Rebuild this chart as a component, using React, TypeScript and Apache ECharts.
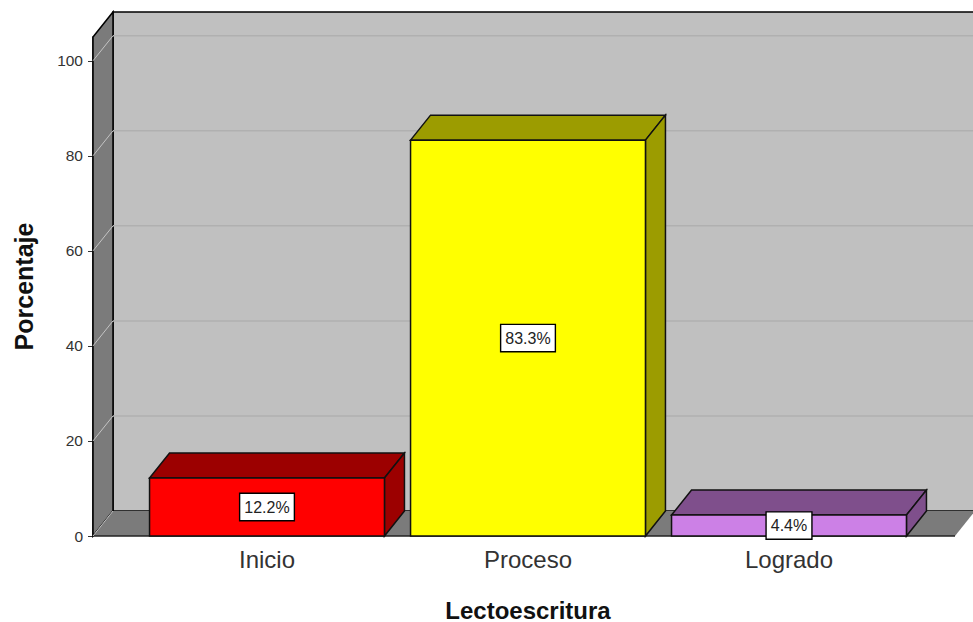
import React, { useEffect, useRef } from "react";
import * as echarts from "echarts";

const categories = ["Inicio", "Proceso", "Logrado"];
const values = [12.2, 83.3, 4.4];
const labels = ["12.2%", "83.3%", "4.4%"];
const tickValues = [0, 20, 40, 60, 80, 100];
const frontColors = ["#ff0000", "#ffff00", "#cc80e6"];
const sideColors = ["#9c0000", "#9c9c00", "#7f4f8c"];

const DX = 20;
const DY = -25;
const AXIS_X = 93;
const AXIS_END = 955;
const FONT = '"Liberation Sans", Arial, sans-serif';

export default function App() {
  const ref = useRef<HTMLDivElement>(null);
  useEffect(() => {
    document.body.style.margin = "0";
    const chart = echarts.init(ref.current!, null, { renderer: "svg" });
    const poly = (points: number[][], fill: string, stroke: string, lineWidth = 1) => ({
      type: "polygon",
      shape: { points },
      style: { fill, stroke, lineWidth },
    });
    chart.setOption({
      animation: false,
      backgroundColor: "#ffffff",
      grid: { left: 136.5, width: 783, top: 37, height: 499, outerBoundsMode: "none" },
      xAxis: {
        type: "category",
        data: categories,
        axisLine: { show: false },
        axisTick: { show: false },
        axisLabel: { margin: 11, fontSize: 24, color: "#333333", fontFamily: FONT },
        name: "Lectoescritura",
        nameLocation: "center",
        nameGap: 62,
        nameTextStyle: { fontSize: 24, fontWeight: "bold", color: "#111111", fontFamily: FONT },
      },
      yAxis: {
        type: "value",
        min: 0,
        max: 105,
        interval: 20,
        offset: 43.5,
        splitLine: { show: false },
        axisLine: { show: true, lineStyle: { color: "#000000", width: 1.5 } },
        axisTick: { show: true, length: 5, customValues: tickValues, lineStyle: { color: "#333333" } },
        axisLabel: { margin: 10, fontSize: 15.5, color: "#333333", fontFamily: FONT, customValues: tickValues },
        name: "Porcentaje",
        nameLocation: "center",
        nameGap: 57,
        nameTextStyle: { fontSize: 25, fontWeight: "bold", color: "#111111", fontFamily: FONT },
      },
      series: [
        {
          type: "custom",
          coordinateSystem: "cartesian2d",
          clip: false,
          silent: true,
          z: 1,
          data: [[0, 0]],
          encode: { x: 0, y: 1 },
          renderItem: (_p: any, api: any) => {
            const y0 = api.coord([0, 0])[1];
            const yTop = api.coord([0, 105])[1];
            return {
              type: "group",
              children: [
                poly(
                  [[AXIS_X + DX, yTop + DY], [1000, yTop + DY], [1000, y0 + DY], [AXIS_X + DX, y0 + DY]],
                  "#c0c0c0",
                  "#000000",
                  1.5,
                ),
                poly(
                  [[AXIS_X, yTop], [AXIS_X + DX, yTop + DY], [AXIS_X + DX, y0 + DY], [AXIS_X, y0]],
                  "#7b7b7b",
                  "#000000",
                  1.5,
                ),
                poly(
                  [[AXIS_X, y0], [AXIS_X + DX, y0 + DY], [AXIS_END + DX, y0 + DY], [AXIS_END, y0]],
                  "#7b7b7b",
                  "#7b7b7b",
                  0,
                ),
                {
                  type: "line",
                  shape: { x1: AXIS_X, y1: y0, x2: AXIS_END, y2: y0 },
                  style: { stroke: "#222222", lineWidth: 1.5 },
                },
              ],
            };
          },
        },
        {
          type: "custom",
          coordinateSystem: "cartesian2d",
          clip: false,
          silent: true,
          z: 2,
          data: tickValues.map((v) => [0, v]),
          encode: { x: 0, y: 1 },
          renderItem: (_p: any, api: any) => {
            const v = api.value(1);
            const y = api.coord([0, v])[1];
            const children: any[] = [
              {
                type: "line",
                shape: { x1: AXIS_X, y1: y, x2: AXIS_X + DX, y2: y + DY },
                style: { stroke: "#c4c4c4", lineWidth: 1 },
              },
            ];
            if (v > 0) {
              children.push({
                type: "line",
                shape: { x1: AXIS_X + DX, y1: y + DY, x2: 1000, y2: y + DY },
                style: { stroke: "#b0b0b0", lineWidth: 1.5 },
              });
            }
            return { type: "group", children };
          },
        },
        {
          type: "custom",
          coordinateSystem: "cartesian2d",
          clip: false,
          z: 3,
          data: categories.map((_c, i) => [i, values[i]]),
          encode: { x: 0, y: 1 },
          renderItem: (params: any, api: any) => {
            const i = params.dataIndex;
            const cat = api.value(0);
            const val = api.value(1);
            const [cx, yTop] = api.coord([cat, val]);
            const y0 = api.coord([cat, 0])[1];
            const w = api.size([1, 0])[0] * 0.9;
            const l = cx - w / 2;
            const r = cx + w / 2;
            const edge = "#111111";
            return {
              type: "group",
              children: [
                poly([[l, yTop], [l + DX, yTop + DY], [r + DX, yTop + DY], [r, yTop]], sideColors[i], edge, 1.5),
                poly([[r, yTop], [r + DX, yTop + DY], [r + DX, y0 + DY], [r, y0]], sideColors[i], edge, 1.5),
                poly([[l, yTop], [r, yTop], [r, y0], [l, y0]], frontColors[i], edge, 1.5),
                {
                  type: "text",
                  x: cx,
                  y: (yTop + y0) / 2,
                  z2: 10,
                  style: {
                    text: labels[i],
                    fill: "#222222",
                    font: `16px ${FONT}`,
                    align: "center",
                    verticalAlign: "middle",
                    backgroundColor: "#ffffff",
                    borderColor: "#000000",
                    borderWidth: 1.4,
                    padding: [5, 4, 5, 4],
                  },
                },
              ],
            };
          },
        },
      ],
    });
    return () => chart.dispose();
  }, []);
  return <div ref={ref} style={{ width: 973, height: 622, overflow: "hidden" }} />;
}
